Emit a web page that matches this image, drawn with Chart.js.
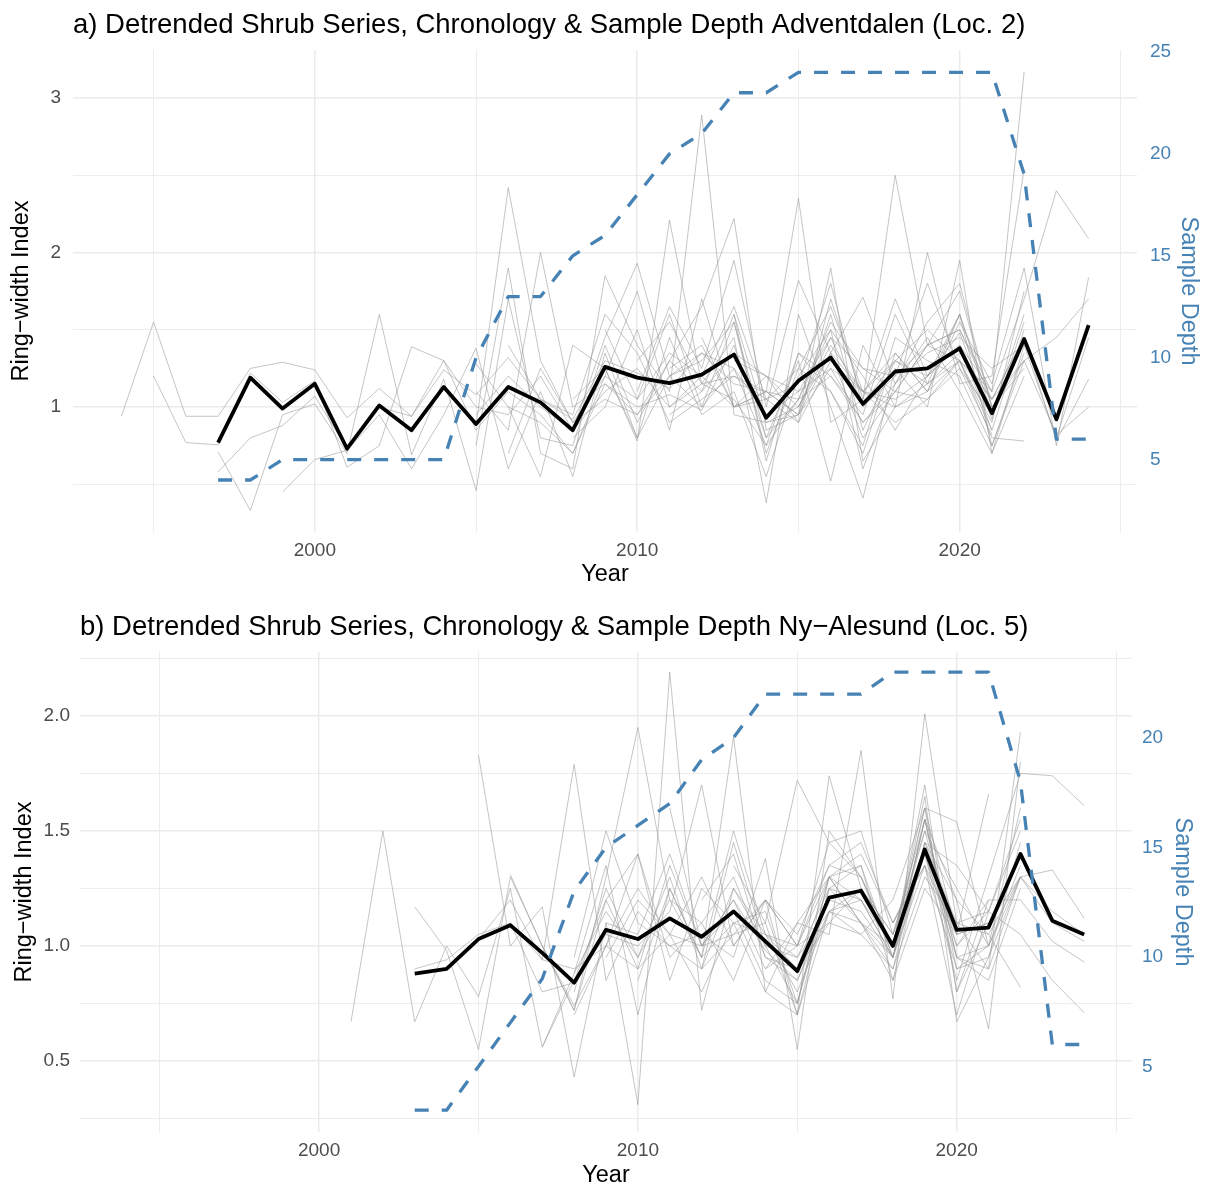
<!DOCTYPE html>
<html>
<head>
<meta charset="utf-8">
<script src="https://cdn.jsdelivr.net/npm/chart.js@4.4.1/dist/chart.umd.min.js"></script>
<style>
html,body{margin:0;padding:0;background:#fff;}
canvas{position:absolute;left:0;}
#ca{top:0;}
#cb{top:600px;}
</style>
</head>
<body>
<canvas id="ca" width="1208" height="595"></canvas>
<canvas id="cb" width="1208" height="589"></canvas>
<script>
// ---------------- DATA ----------------
const xTicks = [1995, 2000, 2005, 2010, 2015, 2020, 2025];

// Panel a) Adventdalen (Loc. 2)
const titleA = 'a) Detrended Shrub Series, Chronology & Sample Depth Adventdalen (Loc. 2)';
const chronStartA = 1997;
const chronA = [0.77,1.19,0.99,1.15,0.73,1.01,0.85,1.13,0.89,1.13,1.03,0.85,1.26,1.19,1.155,1.21,1.34,0.93,1.17,1.32,1.02,1.23,1.25,1.38,0.96,1.44,0.92,1.53];
const depthA = [4,4,5,5,5,5,5,5,10,13,13,15,16,18,20,21,23,23,24,24,24,24,24,24,24,19,6,6];
const startA = [1994,1995,1997,1997,1999,2005,2005,2005,2005,2005,2006,2006,2006,2008,2008,2009,2010,2010,2011,2011,2012,2013,2013,2015];
const ringA = [
  [0.94,1.55,0.94,0.94,1.25,1.29,1.24,0.93,1.12,0.94,1.24,1.08,1.32,1.05,0.92,1.30,1.22,1.12,1.35,1.25,0.95,1.10,1.45,1.02,1.30,1.20,1.48,0.92,1.55],
  [1.20,0.77,0.755,1.22,1.03,1.17,0.61,0.75,1.39,1.30,0.85,1.10,0.95,0.70,1.15,1.00,1.08,0.98,1.40,0.80,1.05,1.20,0.90,1.10,1.05,1.25,0.82],
  [0.71,0.33,0.95,1.02,0.70,1.60,0.69,1.18,0.46,1.70,0.80,0.75,1.40,0.90,1.30,1.10,1.60,0.65,1.35,1.10,0.75,1.45,1.30,1.20,0.75,1.35],
  [0.58,0.80,0.88,1.07,0.73,1.00,0.94,1.30,1.00,0.95,1.20,0.85,1.10,1.25,1.00,1.15,1.20,1.05,0.90,1.30,1.10,1.00,1.15,1.35,1.05,1.45,0.78,1.18],
  [0.45,0.66,0.72,0.95,0.60,0.95,1.38,0.60,1.10,0.55,1.35,0.80,1.45,0.95,1.10,0.55,1.20,1.50,0.60,1.15,1.45,1.10,0.70,1.20],
  [0.88,2.42,1.30,0.90,1.20,1.05,1.60,1.00,1.25,0.75,1.35,1.20,0.95,1.60,1.15,1.30,0.85,1.50],
  [1.10,0.85,2.00,1.00,1.15,0.95,1.20,1.35,1.15,1.10,1.05,1.55,1.25,1.20,1.40,1.50,1.10,1.70,2.40,2.09],
  [0.75,1.90,0.70,0.60,1.85,1.40,1.10,2.89,0.95,0.90,1.00,1.35,0.80,1.10,1.40,1.75,1.00,1.25],
  [0.95,1.20,1.00,0.85,1.45,1.93,1.20,1.30,1.55,0.70,1.25,1.65,1.10,1.35,1.10,1.60,0.95],
  [1.28,1.00,0.55,1.40,1.25,0.78,2.21,1.15,1.45,0.38,1.60,1.00,0.41,1.25,1.00,1.95,0.70,1.40],
  [1.00,0.90,0.70,1.20,1.75,1.00,1.20,1.65,1.05,1.15,1.80,1.00,1.20,1.80,1.25,0.95,1.60],
  [0.70,1.25,0.90,1.05,0.95,1.30,1.65,2.22,0.85,0.95,1.90,0.65,1.00,1.10,1.55,1.15,1.90,0.75,1.84],
  [1.40,1.05,0.95,1.60,1.35,0.90,1.05,1.20,1.10,2.35,0.90,1.05,2.50,1.40,1.30,1.10,3.17],
  [0.80,1.00,1.50,0.85,1.70,1.00,1.20,0.90,1.70,1.05,1.70,1.20,1.40,0.85],
  [1.05,1.25,0.80,1.20,1.00,1.55,0.80,1.30,0.52,1.40,1.00,2.00,1.15,1.20,2.54],
  [1.50,1.05,1.35,1.20,1.00,1.10,0.95,1.25,1.10,1.30,1.15,1.60,0.75,1.30,1.45,1.70],
  [1.10,1.65,1.25,1.95,1.00,1.82,1.35,1.71,1.15,1.55,1.80,1.00,1.30],
  [1.30,1.55,1.15,1.05,0.75,1.05,1.50,1.20,0.85,1.20,1.40,1.10],
  [1.25,1.40,1.00,1.05,1.25,1.10,0.70,1.35,1.10,1.30,0.90,1.75],
  [0.95,1.10,1.35,1.20,1.00,1.45,1.25,1.10,1.40,1.50,1.05,1.30,0.82,1.00],
  [1.45,1.00,1.10,0.95,1.60,0.85,1.30,1.50,1.30,0.80,0.78],
  [1.60,0.90,0.95,1.35,1.10,1.05,1.20,1.60,1.00],
  [1.30,1.20,1.10,1.25,0.90,1.15,1.35,1.45,1.25,1.40,0.80,1.45],
  [1.00,1.40,1.10,0.90,1.05,1.30,1.05,1.45]
];
const yTicksA = [0.5,1,1.5,2,2.5,3];
const depthTicksA = [5,10,15,20,25];

// Panel b) Ny-Alesund (Loc. 5)
const titleB = 'b) Detrended Shrub Series, Chronology & Sample Depth Ny\u2212Alesund (Loc. 5)';
const chronStartB = 2003;
const chronB = [0.88,0.90,1.03,1.09,0.97,0.84,1.07,1.03,1.12,1.04,1.15,1.02,0.89,1.21,1.24,1.00,1.42,1.07,1.08,1.40,1.11,1.05];
const depthB = [3,3,5,7,9,13,15,16,17,19,20,22,22,22,22,23,23,23,23,18,6,6];
const startB = [2001,2003,2003,2005,2005,2006,2006,2007,2007,2008,2008,2008,2008,2009,2009,2010,2011,2012,2012,2013,2014,2014,2018];
const ringB = [
  [0.67,1.50,0.67,1.00,0.78,1.25,0.56,0.88,1.15,0.95,1.30,0.90,1.45,1.00,0.75,1.30,1.35,0.95,1.55,0.90,1.00,1.60],
  [1.17,0.98,0.55,1.30,1.00,0.72,1.20,1.40,0.95,1.10,0.85,1.20,1.00,1.10,1.25,1.05,1.50,1.00,1.15,1.55],
  [0.90,0.94,1.05,1.10,0.94,0.90,1.00,0.90,1.05,1.00,1.20,0.98,0.85,1.15,1.20,0.95,1.35,1.05,1.10,1.30,1.10,1.02],
  [1.83,1.00,1.17,0.43,1.10,0.31,2.19,0.72,1.25,1.00,0.95,1.25,1.10,0.90,1.45,1.20,0.64,1.80],
  [1.03,1.20,0.94,1.79,0.85,1.15,1.00,1.05,0.95,1.38,0.55,1.50,1.30,1.00,1.70,0.80,1.20],
  [1.31,1.00,0.72,1.30,1.95,1.20,0.95,1.91,0.80,1.10,1.05,1.85,0.77,2.01,1.10,0.90,1.93],
  [1.10,0.80,0.84,1.05,1.00,1.15,1.70,1.00,1.20,0.70,1.74,1.25,1.05,1.40,0.85,1.30,1.75,1.74,1.61],
  [0.56,0.85,1.20,0.90,1.35,1.00,1.20,0.90,1.00,1.45,1.30,1.00,1.60,1.05,1.10,1.40],
  [1.00,0.74,1.00,1.25,1.05,0.80,1.10,1.15,0.75,1.30,1.40,1.10,1.35,0.70,1.15,1.50],
  [0.80,1.25,0.95,1.20,1.10,1.30,0.95,0.85,1.20,1.15,0.95,1.55,1.20,1.05,1.30,1.33,1.12],
  [0.95,1.50,1.10,1.00,0.90,1.05,1.20,1.05,1.35,1.45,1.10,1.40,0.95,0.85,1.25],
  [0.70,1.00,1.40,0.85,1.25,1.10,0.80,0.70,1.15,1.05,1.20,1.60,1.54,1.00,1.35],
  [0.88,1.35,0.70,1.25,0.95,1.50,1.05,1.00,1.30,1.10,0.85,1.25,1.05,1.66],
  [1.10,1.05,1.40,1.00,1.15,0.85,0.75,1.25,1.20,1.00,1.65,0.67,0.95,1.45],
  [0.95,1.20,1.05,1.30,1.00,1.20,1.00,1.35,1.30,0.95,1.40,1.00,1.20,1.20,1.02,0.93],
  [0.85,1.25,0.95,1.10,1.05,0.90,1.10,1.05,0.90,1.30,1.10,1.05,0.82],
  [1.60,1.00,1.05,1.10,1.72,1.45,1.50,1.05,1.55,0.95,0.90,1.30],
  [1.20,1.40,0.95,0.90,1.30,1.20,0.95,1.45,1.10,1.15,1.05,0.85,0.71],
  [0.90,1.25,1.05,0.80,1.15,1.10,1.00,1.50,1.25,1.00,1.30],
  [1.35,1.10,0.70,1.25,1.35,0.85,1.45,1.35,1.15],
  [1.05,0.95,1.15,1.25,1.00,1.60,0.80,1.10],
  [0.90,1.10,1.30,1.10,0.95,1.55,0.95,1.00],
  [1.10,1.35,0.90,0.95,1.30,1.15,1.05]
];
const yTicksB = [0.25,0.5,0.75,1,1.25,1.5,1.75,2,2.25];
const depthTicksB = [5,10,15,20];

// ---------------- RENDER ----------------
const FONT = '"Liberation Sans", Arial, Helvetica, sans-serif';
Chart.defaults.font.family = FONT;
const BLUE = '#4682B4';
const TICK_SIZE = 19, AXT_SIZE = 23.5, TITLE_SIZE = 27.5;

function pts(start, vals) { return vals.map((v, k) => ({x: start + k, y: v})); }

function build(id, p) {
  const datasets = [];
  datasets.push({data: pts(p.chronStart, p.depth), yAxisID: 'y2', borderColor: BLUE, borderWidth: 3.3,
    borderDash: [14, 13], borderCapStyle: 'butt', order: 0});
  datasets.push({data: pts(p.chronStart, p.chron), yAxisID: 'y', borderColor: '#000', borderWidth: 3.8, order: 1});
  p.starts.forEach((s, i) => datasets.push({data: pts(s, p.rings[i]), yAxisID: 'y',
    borderColor: 'rgba(150,150,150,0.55)', borderWidth: 1, order: 2}));
  datasets.forEach(d => { d.pointRadius = 0; d.fill = false; d.tension = 0; d.borderJoinStyle = 'round'; });

  return new Chart(document.getElementById(id), {
    type: 'line',
    data: {datasets},
    options: {
      responsive: false, animation: false, devicePixelRatio: 1,
      layout: {padding: 0},
      plugins: {
        legend: {display: false}, tooltip: {enabled: false},
        title: {display: true, text: p.title, align: 'start', fullSize: false, color: '#000',
          font: {size: TITLE_SIZE, weight: 'normal', lineHeight: 1.2}, padding: {top: p.tTop, bottom: p.tBot}}
      },
      scales: {
        x: {
          type: 'linear', min: 1992.5, max: 2025.5,
          afterBuildTicks: s => { s.ticks = xTicks.map(v => ({value: v})); },
          afterFit: s => { s.height = p.xH; },
          ticks: {callback: v => (v % 10 === 0 ? String(v) : ''), color: '#4d4d4d', font: {size: TICK_SIZE}, padding: 7, autoSkip: false, maxRotation: 0},
          grid: {color: '#ebebeb', lineWidth: c => (c.tick && c.tick.value % 10 === 0) ? 1.5 : 0.9, drawTicks: false},
          border: {display: false},
          title: {display: true, text: 'Year', color: '#000', font: {size: AXT_SIZE, lineHeight: 1}, padding: {top: 0, bottom: p.yearPad}}
        },
        y: {
          position: 'left', min: p.yMin, max: p.yMax,
          afterBuildTicks: s => { s.ticks = p.yTicks.map(v => ({value: v})); },
          afterFit: s => { s.width = p.yW; },
          ticks: {callback: p.yLabel, color: '#4d4d4d', font: {size: TICK_SIZE}, padding: p.yTickPad, autoSkip: false},
          grid: {color: '#ebebeb', lineWidth: c => (c.tick && p.yMajor(c.tick.value)) ? 1.5 : 0.9, drawTicks: false},
          border: {display: false},
          title: {display: true, text: 'Ring\u2212width Index', color: '#000', font: {size: AXT_SIZE, lineHeight: 1}, padding: {top: p.yTitlePad, bottom: 0}}
        },
        y2: {
          position: 'right', min: p.yMin * p.k, max: p.yMax * p.k,
          afterBuildTicks: s => { s.ticks = p.dTicks.map(v => ({value: v})); },
          afterFit: s => { s.width = p.y2W; },
          ticks: {callback: v => String(v), color: BLUE, font: {size: TICK_SIZE}, padding: p.y2TickPad, autoSkip: false},
          grid: {drawOnChartArea: false, drawTicks: false},
          border: {display: false},
          title: {display: true, text: 'Sample Depth', color: BLUE, font: {size: AXT_SIZE, lineHeight: 1}, padding: {top: p.y2TitlePad, bottom: 0}}
        }
      }
    }
  });
}

build('ca', {
  title: titleA, chronStart: chronStartA, chron: chronA, depth: depthA, starts: startA, rings: ringA,
  yTicks: yTicksA, dTicks: depthTicksA, yMin: 0.191, yMax: 3.311, k: 7.58,
  yLabel: v => (Number.isInteger(v) ? String(v) : ''), yMajor: v => Number.isInteger(v),
  tTop: 8.5, tBot: 8.5, xH: 63, yearPad: 8.25, yW: 73, yTickPad: 12, yTitlePad: 10.25,
  y2W: 71, y2TickPad: 13, y2TitlePad: 8.25
});

build('cb', {
  title: titleB, chronStart: chronStartB, chron: chronB, depth: depthB, starts: startB, rings: ringB,
  yTicks: yTicksB, dTicks: depthTicksB, yMin: 0.191, yMax: 2.278, k: 10.5,
  yLabel: v => (Number.isInteger(v * 2) ? v.toFixed(1) : ''), yMajor: v => Number.isInteger(v * 2),
  tTop: 10.5, tBot: 8.5, xH: 57, yearPad: 1.25, yW: 80, yTickPad: 10, yTitlePad: 13.25,
  y2W: 76, y2TickPad: 10, y2TitlePad: 14.25
});
</script>
</body>
</html>
